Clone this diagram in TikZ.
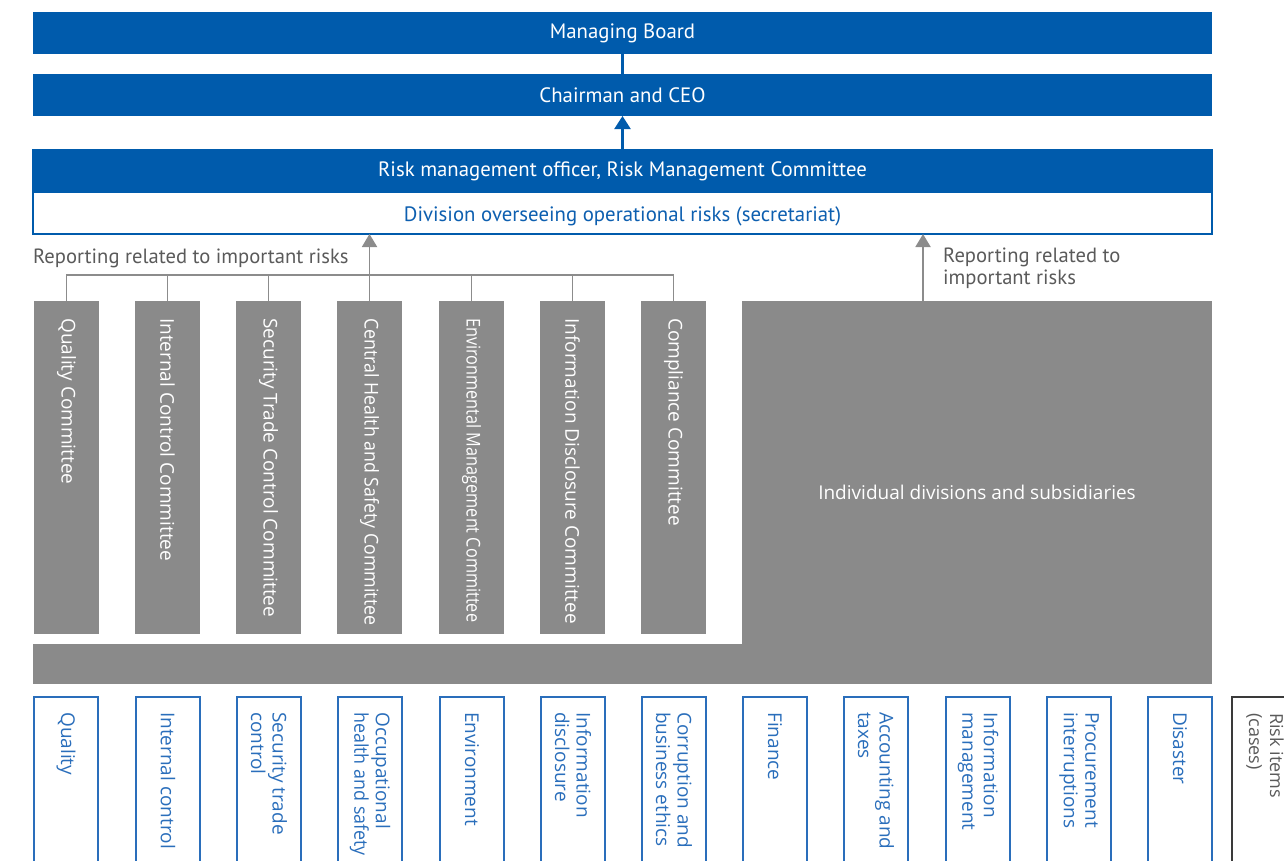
\documentclass[tikz,border=0pt]{standalone}
\usepackage{fontspec}
\usepackage{graphicx}
\setmainfont{PT Sans}
\newfontfamily\vfont{Open Sans}
\usetikzlibrary{arrows.meta}
\definecolor{bmain}{HTML}{005BAC}
\definecolor{btext}{HTML}{0D5FB0}
\definecolor{bbox}{HTML}{2A6EBB}
\definecolor{gbox}{HTML}{8A8A8A}
\definecolor{gline}{HTML}{8C8C8C}
\definecolor{glabel}{HTML}{5A5A5A}
\definecolor{dark}{HTML}{3A3A3A}
\begin{document}
\begin{tikzpicture}[x=1pt,y=-1pt,
  rect/.style={inner sep=0pt, outer sep=0pt, anchor=north west},
  bluebar/.style={rect, fill=bmain, text=white, minimum width=1179pt, font=\fontsize{20.8}{24}\selectfont},
  whitebar/.style={rect, draw=bmain, line width=1.8pt, fill=white, minimum width=1179pt},
  cbox/.style={rect, fill=gbox, minimum width=65pt, minimum height=333pt},
  ctext/.style={rotate=-90, anchor=west, inner sep=0pt, text=white, font=\vfont\fontsize{19}{22}\selectfont},
  rbox/.style={rect, draw=bbox, line width=1.3pt, minimum width=64pt, minimum height=200pt},
  rtext/.style={rotate=-90, anchor=west, inner sep=0pt, text=bbox, align=left, font=\vfont\fontsize{19}{21.5}\selectfont},
  glab/.style={inner sep=0pt, text=glabel, font=\fontsize{20.6}{21.5}\selectfont},
  gln/.style={draw=gline, line width=1.9pt},
  garrow/.style={gln, -{Triangle[width=15pt,length=13pt]}},
  bln/.style={draw=bmain, line width=2.2pt},
  barrow/.style={bln, -{Triangle[width=16pt,length=13pt]}}
]
\clip (0,0) rectangle (1284,860);
\useasboundingbox (0,0) rectangle (1284,860);

% top bars
\node[bluebar, minimum height=42pt] (mb) at (33,12) {Managing Board};
\node[bluebar, minimum height=42pt] (ceo) at (33,74) {Chairman and CEO};
\node[whitebar, minimum height=84pt] (div) at (33,150) {};
\node[bluebar, minimum height=43pt] (risk) at (33,150) {Risk management officer, Risk Management Committee};
\node[anchor=base, inner sep=0pt, text=btext, font=\fontsize{20.8}{24}\selectfont] (divtext) at (622.5,221.5) {Division overseeing operational risks (secretariat)};

\draw[bln] (mb.south) -- (ceo.north);
\draw[barrow] (risk.north) -- (ceo.south);

% gray region
\node[rect, fill=gbox, minimum width=1179pt, minimum height=40pt] (bar) at (33,644) {};
\node[rect, fill=gbox, minimum width=470pt, minimum height=383pt, text=white, font=\vfont\fontsize{19}{22}\selectfont] (big) at (742,301) {Individual divisions and subsidiaries};

% committees
\node[cbox] (c1) at (34,301) {};
\node[cbox] (c2) at (135,301) {};
\node[cbox] (c3) at (236,301) {};
\node[cbox] (c4) at (337,301) {};
\node[cbox] (c5) at (439,301) {};
\node[cbox] (c6) at (540,301) {};
\node[cbox] (c7) at (641,301) {};
\node[ctext] (t1) at ([yshift=-17pt]c1.north) {Quality Committee};
\node[ctext] (t2) at ([yshift=-17pt]c2.north) {Internal Control Committee};
\node[ctext] (t3) at ([yshift=-17pt]c3.north) {Security Trade Control Committee};
\node[ctext] (t4) at ([yshift=-17pt]c4.north) {\scalebox{0.935}[1]{Central Health and Safety Committee}};
\node[ctext] (t5) at ([yshift=-17pt]c5.north) {\scalebox{0.856}[1]{Environmental Management Committee}};
\node[ctext] (t6) at ([yshift=-17pt]c6.north) {Information Disclosure Committee};
\node[ctext] (t7) at ([yshift=-17pt]c7.north) {Compliance Committee};

% connectors
\coordinate (hl) at (66.5,275);
\coordinate (hr) at (673.5,275);
\draw[gln] (c1.north) -- (hl) -- (hr) -- (c7.north);
\foreach \c in {c2,c3,c5,c6} \draw[gln] (\c.north) -- (\c.north |- hl);
\draw[garrow] (c4.north) -- (c4.north |- div.south);
\coordinate (rb) at (923,301);
\draw[garrow] (rb) -- (rb |- div.south);

\node[glab, anchor=base west] (lab1) at (33,263) {Reporting related to important risks};
\node[glab, anchor=north west, align=left] (lab2) at (943,248) {Reporting related to\\important risks};

% risk items
\node[rbox] (r1) at (34,697) {};
\node[rbox] (r2) at (136,697) {};
\node[rbox] (r3) at (237,697) {};
\node[rbox] (r4) at (338,697) {};
\node[rbox] (r5) at (440,697) {};
\node[rbox] (r6) at (541,697) {};
\node[rbox] (r7) at (642,697) {};
\node[rbox] (r8) at (743,697) {};
\node[rbox] (r9) at (844,697) {};
\node[rbox] (r10) at (946,697) {};
\node[rbox] (r11) at (1047,697) {};
\node[rbox] (r12) at (1148,697) {};
\node[rbox, draw=dark, minimum width=80pt] (r13) at (1232,697) {};
\node[rtext] (s1) at ([yshift=-15pt]r1.north) {Quality};
\node[rtext] (s2) at ([yshift=-15pt]r2.north) {Internal control};
\node[rtext] (s3) at ([yshift=-15pt]r3.north) {Security trade\\control};
\node[rtext] (s4) at ([yshift=-15pt]r4.north) {Occupational\\\scalebox{0.94}[1]{health and safety}};
\node[rtext] (s5) at ([yshift=-15pt]r5.north) {Environment};
\node[rtext] (s6) at ([yshift=-15pt]r6.north) {Information\\disclosure};
\node[rtext] (s7) at ([yshift=-15pt]r7.north) {Corruption and\\business ethics};
\node[rtext] (s8) at ([yshift=-15pt]r8.north) {Finance};
\node[rtext] (s9) at ([yshift=-15pt]r9.north) {Accounting and\\taxes};
\node[rtext] (s10) at ([yshift=-15pt]r10.north) {Information\\management};
\node[rtext] (s11) at ([yshift=-15pt]r11.north) {Procurement\\interruptions};
\node[rtext] (s12) at ([yshift=-15pt]r12.north) {Disaster};
\node[rtext, text=glabel, anchor=north west, font=\vfont\fontsize{18}{21}\selectfont] (s13) at (1284,713) {Risk items\\(cases)};
\end{tikzpicture}
\end{document}
